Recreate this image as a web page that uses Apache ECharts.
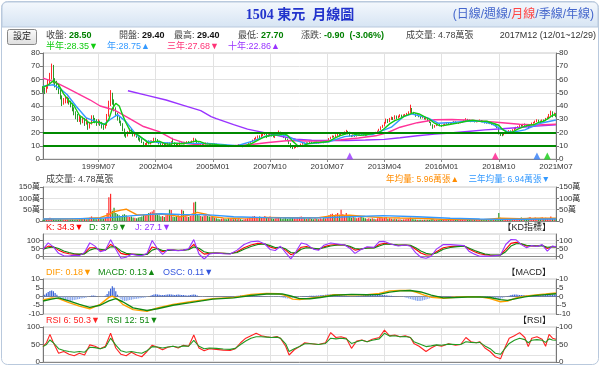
<!DOCTYPE html>
<html><head><meta charset="utf-8">
<script src="https://cdn.jsdelivr.net/npm/echarts@6/dist/echarts.min.js"></script>
<style>html,body{margin:0;padding:0;background:#fff}#c{width:600px;height:366px}</style>
</head><body><div id="c"></div>
<script>
// ---------- data ----------
const startYear = 1996, startMonth = 11, monthCount = 297;
const tickLabels = ['1999M07','2002M04','2005M01','2007M10','2010M07','2013M04','2016M01','2018M10','2021M07'];
const priceLevels = [20, 10];

const priceOpen = [
54,52,
51,54,57,62,66,60,57,55,52,47,42,44,
44,45,43,41,38,35,32,30,31,28,30,27,
29,24,27,31,30,28,27,28,27,25,24,26,
33,42,48,44,38,34,30,28,26,22,19,18,
20,22,20,18,19,17,15,14,13,10,11,13,
12,12.5,13,15,14,13,12,11,11.5,10,11,12,
11,13,12,11,10,11,12,12.5,11.5,12,13,12,
12.5,13,15,14,12,11,11.2,11,11.3,12,11.3,11,
11.2,11,11.3,10.5,10.2,10,10.3,10.8,10.3,10,9.4,9.8,
10.2,10,10.3,10.1,10.8,10,9.3,9.8,10.2,11,12,13,
14,15,16,17,16.6,18,18.4,19.2,17,18,19.3,17.8,
17,18,19,20,19.2,18.3,16.2,15,14,11.8,9,8.2,
9,9.2,9.4,10.2,11.2,12,11.6,12.2,11.8,12.8,12.2,12,
12.8,12.2,12.3,13,13.2,12.4,13,14,15.2,16.3,17,16.8,
18,18.2,17.8,18.8,19.3,20.2,20.8,19,17.8,17,18,17.2,
17.8,18.3,19,18.8,18.1,17.8,18.7,19.1,18.9,19.8,19.2,20,
21,22.2,24,25,27,29.5,28,30,31,30,32,31,
32,33,32.2,33,33.3,34,35,38,35,34,33,33.2,
32,31,31.4,30.2,30.5,29,27.8,25.8,24,25,26.2,26,
25.6,25,25.8,26.3,27,26.2,26.8,27.3,28,27.4,27,27.3,
27.6,28.2,29,30,29.2,29,28.3,28.6,28,28.2,28.3,29.4,
28.5,28.2,27.6,27.2,27.5,26.8,26.2,26.4,25,24.2,19.5,18.5,
18.2,19,20,20.4,21.2,20.8,22,23,23.8,24.2,25,24.8,
26,25.8,25,24,26,27,27.3,28.2,29.2,28.8,27.8,29.2,
29,30.2,31.2,33,35.5,33,34.2];
const priceClose = [
52,51,
54,57,62,64,60,57,55,52,47,42,44,45,
45,43,41,38,35,32,30,31,28,30,27,29,
24,27,31,30,28,27,28,27,25,24,26,33,
42,48,44,38,34,30,28,26,22,19,18,20,
22,20,18,19,17,15,14,13,10,11,13,12,
12.5,13,15,14,13,12,11,11.5,10,11,12,11,
13,12,11,10,11,12,12.5,11.5,12,13,12,12.5,
13,15,14,12,11,11.2,11,11.3,12,11.3,11,11.2,
11,11.3,10.5,10.2,10,10.3,10.8,10.3,10,9.4,9.8,10.2,
10,10.3,10.1,10.8,10,9.3,9.8,10.2,11,12,13,14,
15,16,17,16.6,18,18.4,19.2,17,18,19.3,17.8,17,
18,19,20,19.2,18.3,16.2,15,14,11.8,9,8.2,9,
9.2,9.4,10.2,11.2,12,11.6,12.2,11.8,12.8,12.2,12,12.8,
12.2,12.3,13,13.2,12.4,13,14,15.2,16.3,17,16.8,18,
18.2,17.8,18.8,19.3,20.2,20.8,19,17.8,17,18,17.2,17.8,
18.3,19,18.8,18.1,17.8,18.7,19.1,18.9,19.8,19.2,20,21,
22.2,24,25,27,29.5,28,30,31,30,32,31,32,
33,32.2,33,33.3,34,35,38,35,34,33,33.2,32,
31,31.4,30.2,30.5,29,27.8,25.8,24,25,26.2,26,25.6,
25,25.8,26.3,27,26.2,26.8,27.3,28,27.4,27,27.3,27.6,
28.2,29,30,29.2,29,28.3,28.6,28,28.2,28.3,29.4,28.5,
28.2,27.6,27.2,27.5,26.8,26.2,26.4,25,24.2,19.5,18.5,18.2,
19,20,20.4,21.2,20.8,22,23,23.8,24.2,25,24.8,26,
25.8,25,24,26,27,27.3,28.2,29.2,28.8,27.8,29.2,29,
30.2,31.2,33,35.5,33,34.2,32.2];
const priceLow = [
50,49,
50,53,56,60,57,54,52,49,45,40,41,42,
42,41,39,36,33,30,28,28,26,27,25,26,
22,23,26,28,27,25,26,25,23,22,23,25,
32,40,41,36,32,29,27,25,21,17,16,17,
19,19,17,17,16,14,13,12,9,9.5,10.5,11,
11,12,12.5,13,12,11,10,10.5,9,9.5,10.5,10.5,
10.5,11.5,10.5,9,9.5,10.5,11.5,11,11,11.5,11.5,11.5,
12,12.5,13,11.5,10.5,10.5,10.3,10.5,11,11,10.5,10.6,
10.5,10.7,10.2,9.7,9.6,9.7,10,9.9,9.6,9,9.1,9.5,
9.6,9.8,9.7,9.9,9.5,8.9,9.1,9.6,10,10.8,11.8,12.7,
13.6,14.6,15.3,15.8,16.2,17.2,18,15.8,16.6,17.6,17,16.3,
15.8,17.6,18.3,18.5,17.8,15.8,14.2,13.4,11.2,8.2,7.5,7.8,
8.3,8.8,9.1,10,10.8,11.2,11.3,11.3,11.6,11.8,11.6,11.8,
11.7,11.7,12.1,12.6,11.9,12.1,12.8,13.8,15,16,16.2,16.6,
17.4,17,17.5,18.5,19,19.8,18.6,17,16.5,16.8,16.7,16.9,
17.4,18,18.3,17.6,17.2,17.5,18.4,18.4,18.7,18.8,19,19.8,
20.8,21.9,23.5,24.6,26.7,27.2,27.8,29.5,29.4,29.8,30.2,30.7,
31.5,31.6,31.8,32.4,32.8,33.6,34.8,34.5,33.2,31.8,32.4,31.5,
30.4,30.6,29.8,29.6,28.6,27.2,25.2,22.8,23.6,24.8,25.4,25,
24.2,24.7,25.5,26,25.8,25.9,26.5,27,27,26.6,26.5,27,
27.3,27.9,28.7,28.8,28.4,27.8,27.9,27.6,27.6,27.8,28,27.7,
27.6,26.8,26.7,26.8,26.3,25.6,25.8,24.4,23.2,18.6,17.4,17.2,
17.8,18.8,19.6,20.1,20.2,20.6,21.7,22.4,23.4,23.9,24.3,24.6,
25,24.3,22.6,23.8,25.7,26.6,27,27.9,28,27.2,27.5,28.4,
28.6,29.8,30.8,32.6,31.5,32.6,31.6];
const priceHigh = [
55,54,
56,60,65,72,71,61,59,57,53,48,46,47,
47,46,44,42,39,36,34,33,32,32,31,31,
29,28,33,33,31,30,30,29,28,26,27,34,
44,52,50,45,39,35,32,29,27,23,20,21,
23,23,21,20,20,18,16,15,13,12,14,14,
14,14,16,16,15,13.5,12.5,12,12,11.5,12.5,12.5,
13.5,16,12.5,11.5,11.5,12.5,13,13,13,13.5,13.5,13,
14,16,15.5,14.5,12.5,11.8,11.8,11.8,12.5,12.3,11.8,11.7,
11.6,11.8,11.5,10.8,10.5,10.7,11.2,11,10.5,10.1,10,10.4,
10.6,10.6,10.5,11.2,11,10.1,10.2,10.5,11.3,12.4,13.5,14.6,
15.8,16.8,17.8,17.9,18.8,19.4,20.4,19.5,18.6,20.2,19.6,18.2,
18.5,19.7,21.5,20.6,19.8,18.5,16.5,15.4,14.2,12,9.4,9.4,
9.6,9.8,10.6,11.6,12.5,12.4,12.6,12.5,13.3,13.1,12.6,13.2,
13.1,12.7,13.4,13.8,13.4,13.3,14.4,15.8,16.8,17.8,17.6,18.6,
19,18.8,19.3,20,20.8,22,21.2,19.3,18.2,18.5,18.3,18.2,
18.7,19.5,19.6,19,18.5,19,19.6,19.5,20.3,20,20.5,21.4,
22.8,24.6,25.8,28,30.5,30.2,31,32,31.6,33,32.8,32.8,
33.8,33.5,33.6,34,34.8,36,41,38.5,35.6,34.5,33.8,33.5,
32.4,32,31.6,31.4,30.8,29.3,28,26.2,25.6,26.8,26.8,26.4,
25.9,26.2,26.8,27.5,27.2,27.2,27.8,28.6,28.4,27.8,27.7,28,
28.6,29.5,30.8,30.3,29.8,29.3,29.1,28.9,28.7,28.8,29.8,29.4,
29,28.4,27.9,28,27.7,27,26.9,26.6,25.4,24.4,19.9,19,
19.4,20.4,21,21.8,21.6,22.5,23.6,24.3,24.8,25.6,25.7,26.5,
26.8,26.2,25.4,26.4,27.5,28,29,30,29.7,29,29.8,29.8,
31,32,34,36.5,36,35,34.6];

// moving averages: [monthIndex, value]
const ma6 = [[0,54],[3,56],[6,59],[9,56],[12,49],[15,44],[18,40],[21,33],[24,30],[27,27],[30,28],[33,27.5],[36,26],[38,30],[40,38],[42,42],[44,40],[46,33],[48,27],[50,22],[52,20],[55,18],[58,15],[61,12],[64,13],[67,13.5],[70,11.8],[73,11],[76,12],[80,11.5],[84,12.4],[88,13.5],[91,13],[94,11.4],[98,11.2],[102,10.6],[106,10.2],[110,10],[114,10],[117,10.2],[120,11.5],[123,13.5],[126,15.5],[129,17.2],[133,18.2],[136,18],[139,19],[141,18],[144,13.5],[147,10],[150,10],[153,11.6],[157,12.4],[161,12.6],[165,13.2],[168,15.5],[171,17.5],[174,18.6],[177,20],[180,18.6],[183,17.8],[187,18.5],[191,19.3],[194,20],[197,23],[200,26.5],[203,29],[206,30.5],[209,32.5],[212,34],[214,35],[217,34],[220,32],[223,30],[226,27],[229,25],[232,25.5],[236,26.4],[240,27.3],[244,28.5],[248,29.2],[252,28.4],[256,28.5],[260,26.8],[263,25.5],[265,22.5],[268,19.8],[271,20.5],[274,22.5],[277,24.2],[280,25.5],[283,25.8],[286,27.6],[289,28.6],[292,31],[294,33],[296,33.6]];
const ma12 = [[0,55],[6,56],[10,53],[14,48.5],[19,40],[25,31],[31,28],[35,26],[39,30],[43,33.5],[48,28],[54,18],[60,13.5],[67,12.5],[75,12],[85,11.8],[95,11.8],[103,11],[112,10],[121,13.5],[129,17.4],[136,18.5],[141,17.5],[146,14],[152,11.5],[158,12],[165,13],[174,16.9],[182,18],[190,18.5],[197,22],[201,24],[208,32],[213,34],[222,31],[228,27],[236,27.5],[245,28.5],[252,28.5],[258,27],[264,23],[268,20.6],[272,20.5],[278,22],[287,27],[296,29.4]];
const ma36 = [[0,61],[7,58],[14,53.5],[27,44.7],[33,40],[41,37],[48,32],[58,24.5],[67,20.7],[75,15],[83,11.6],[91,10.6],[100,10.2],[110,10],[119,10.8],[130,12.5],[142,14],[152,13.6],[162,13.5],[172,14.5],[182,15.8],[192,17.5],[199,20],[206,24],[216,27.4],[226,29.6],[236,29.8],[246,29.2],[256,28.4],[265,27.4],[275,26.2],[285,25.7],[296,26.2]];
const ma120 = [[49,51.5],[60,48],[71,44.5],[81,40.5],[91,36.5],[97,32],[100,30.5],[110,26],[118,22.5],[129,19.5],[138,17],[146,15],[155,14.2],[165,14],[175,14],[186,14.3],[197,14.8],[206,16],[216,17.5],[226,18.8],[235,19.6],[245,20.8],[255,22],[265,22.8],[275,23.8],[285,24.8],[296,25.8]];
const signalMonths = ['2011M08','2018M08','2020M08','2021M02'];
const signalColors = ['#9933ff','#ff1a8c','#2f7cf6','#11cc11'];

// volume (萬張)
const volume = [
6,8,
10,12,14,10,8,6,5,6,8,5,6,5,
5,4,5,6,4,5,6,8,9,10,12,8,
10,14,20,12,10,8,10,12,9,10,15,35,
105,120,45,58,35,30,25,22,28,30,25,20,
18,20,15,14,12,15,18,20,28,25,30,35,
38,42,48,35,28,25,20,22,18,25,30,50,
48,20,18,22,25,20,50,45,25,20,18,22,
25,82,85,30,25,22,20,25,30,22,20,18,
20,15,12,10,8,10,12,10,8,12,10,9,
8,10,8,12,8,6,8,10,12,15,18,20,
22,18,15,20,18,15,22,18,15,20,12,10,
12,15,18,14,10,12,15,10,12,18,15,12,
12,15,18,20,15,12,10,12,15,10,8,12,
10,8,12,10,15,12,18,25,30,32,25,30,
35,28,50,30,25,35,22,20,15,18,15,12,
15,18,20,15,12,10,12,10,12,10,8,12,
15,18,12,15,18,10,12,10,8,10,8,7,
8,6,7,8,9,10,15,12,8,7,6,5,
6,5,6,5,6,5,8,10,6,5,4,5,
5,4,5,6,4,5,4,6,5,4,4,5,
5,6,7,5,4,5,4,5,4,4,6,4.78,
5,4,5,4,4,5,4,6,6,35,14,8,
10,8,7,9,8,10,12,10,8,9,15,10,
12,10,14,18,12,10,15,12,10,14,16,12,
14,10,12,20,12,10,8];
const volMa12 = [[0,9],[10,9],[20,9],[33,14.7],[38,28],[41,41],[45,48],[48,52],[51,40],[54,28],[60,26],[65,32],[69,29],[75,25],[79,19],[84,25],[89,38],[94,30],[98,19],[104,14],[110,12],[120,14],[129,16],[138,15],[148,15],[158,14],[167,23.5],[177,26],[186,20],[196,15],[206,13],[216,12],[230,8],[244,7],[254,6],[264,12],[275,10],[285,12],[296,12]];
const volMa36 = [[0,9],[15,9.5],[33,12],[42,17],[52,23.5],[60,28],[68,32],[79,29],[90,28],[98,26],[110,19],[129,14.7],[148,13],[160,14],[177,19],[196,23.5],[216,19],[235,12],[252,9],[264,7.3],[280,8],[296,8.8]];

// KD
const kLine = [[0,45],[3,65],[6,60],[9,40],[12,25],[15,18],[18,15],[21,12],[24,20],[27,55],[30,55],[33,40],[36,40],[39,75],[42,55],[45,20],[48,12],[51,15],[54,12],[57,10],[60,15],[63,60],[66,50],[69,30],[72,40],[75,40],[78,38],[81,40],[84,45],[87,75],[90,40],[93,15],[96,20],[100,22],[104,20],[108,18],[112,30],[116,55],[120,72],[124,82],[128,78],[131,60],[134,50],[137,60],[140,40],[143,12],[146,25],[149,58],[152,62],[156,50],[159,45],[162,60],[166,72],[170,74],[174,72],[177,60],[180,40],[183,45],[187,55],[191,55],[194,75],[197,82],[201,76],[205,70],[209,72],[212,68],[215,45],[218,22],[221,10],[224,10],[227,30],[231,55],[235,62],[239,65],[243,66],[246,45],[249,30],[252,18],[255,12],[258,8],[261,8],[264,10],[267,45],[270,82],[273,88],[276,78],[279,65],[282,68],[285,65],[288,70],[291,50],[294,62],[296,60]];
const dLine = [[0,45],[3,55],[6,60],[9,50],[12,35],[15,25],[18,18],[21,15],[24,17],[27,40],[30,50],[33,45],[36,40],[39,60],[42,60],[45,35],[48,20],[51,15],[54,14],[57,12],[60,13],[63,40],[66,50],[69,38],[72,38],[75,40],[78,39],[81,40],[84,43],[87,60],[90,52],[93,30],[96,22],[100,22],[104,21],[108,19],[112,25],[116,45],[120,62],[124,75],[128,78],[131,68],[134,56],[137,58],[140,48],[143,25],[146,22],[149,45],[152,55],[156,52],[159,48],[162,55],[166,66],[170,72],[174,72],[177,64],[180,50],[183,47],[187,52],[191,54],[194,66],[197,76],[201,76],[205,72],[209,72],[212,70],[215,55],[218,35],[221,20],[224,14],[227,22],[231,45],[235,56],[239,62],[243,65],[246,52],[249,38],[252,26],[255,16],[258,11],[261,9],[264,10],[267,30],[270,65],[273,80],[276,80],[279,70],[282,68],[285,66],[288,68],[291,58],[294,60],[296,60]];
const jLine = [[0,45],[3,85],[6,60],[9,20],[12,5],[15,4],[18,9],[21,6],[24,26],[27,85],[30,65],[33,30],[36,40],[39,105],[42,45],[45,-10],[48,-4],[51,15],[54,8],[57,6],[60,19],[63,100],[66,50],[69,14],[72,44],[75,40],[78,36],[81,40],[84,49],[87,105],[90,16],[93,-15],[96,16],[100,22],[104,18],[108,16],[112,40],[116,75],[120,92],[124,96],[128,78],[131,44],[134,38],[137,64],[140,24],[143,-14],[146,31],[149,84],[152,76],[156,46],[159,39],[162,70],[166,84],[170,78],[174,72],[177,52],[180,20],[183,41],[187,61],[191,57],[194,93],[197,94],[201,76],[205,66],[209,72],[212,64],[215,25],[218,-4],[221,-10],[224,2],[227,46],[231,75],[235,74],[239,71],[243,68],[246,31],[249,14],[252,2],[255,4],[258,2],[261,6],[264,10],[267,75],[270,106],[273,104],[276,74],[279,55],[282,68],[285,63],[288,74],[291,34],[294,66],[296,60]];
const kdTicks = [0,20,50,80,100];

// MACD
const difLine = [[0,-2],[5,-0.8],[9,-1.2],[15,-3.5],[21,-5.5],[27,-7],[33,-4.5],[38,-0.5],[40,0.2],[43,-1.5],[46,-4.5],[52,-7.5],[60,-8.5],[66,-6.5],[75,-4.6],[85,-3],[98,-1.2],[110,-0.5],[120,1.2],[129,1.8],[136,1.6],[140,0.5],[144,-1.5],[148,-1.8],[154,-1],[160,-0.2],[168,1],[178,1],[187,1],[194,1.8],[200,3.2],[206,3.5],[212,3.4],[216,2.2],[220,0.8],[224,-0.4],[231,-1],[238,-0.4],[245,-0.1],[252,-0.2],[258,-1.2],[264,-3],[268,-2.6],[273,-0.8],[278,0.2],[283,0.8],[290,1.4],[296,2]];
const macdLine = [[0,-2.6],[5,-1.5],[9,-0.8],[15,-2.5],[21,-4.5],[27,-6.2],[33,-5],[38,-2.5],[42,-1.2],[46,-3],[52,-6.5],[60,-8],[66,-7],[75,-5],[85,-3.5],[98,-1.5],[110,-0.8],[120,0.6],[129,1.4],[138,1.5],[143,0.3],[148,-1.2],[154,-1.3],[160,-0.6],[168,0.7],[178,1.2],[187,1],[194,1.2],[200,2.5],[206,3.2],[212,3.4],[218,2.6],[224,0.8],[231,-0.8],[238,-0.6],[245,-0.3],[252,-0.2],[258,-0.6],[264,-1.8],[268,-2.2],[273,-1.2],[278,-0.2],[283,0.5],[290,1.1],[296,1.6]];
const oscBars = [
0.5,1,1.8,2.6,3.2,3.4,3,2,1,
-0.3,-0.8,-1.3,-1.8,-2.2,-2.5,-2.6,-2.5,-2.3,-2,-1.8,-1.6,-1.4,-1.2,-1,-0.8,-0.5,
-0.2,0.2,0.5,0.6,0.4,0.2,0,-0.2,-0.3,-0.1,0.5,
1.5,3,4.5,5.8,5,3,
1,-0.5,-1.5,-2.3,-2.6,-2.5,-2.3,-2,-1.8,-1.6,-1.4,-1.3,-1.2,-1,-0.9,-0.7,-0.5,-0.3,
0,0.4,0.8,1.2,1.3,1.1,1,0.9,0.8,0.9,1,1.1,1.2,1.1,1,0.9,1,1.1,1,0.9,0.8,0.7,0.6,
0.6,0.8,1,1.2,1,0.6,0.2,-0.1,-0.3,-0.2,0,0.1,0.2,0.2,0.1,
0.1,0.1,0.1,0.2,0.1,0.1,0.2,0.1,0.1,0.2,0.2,0.3,0.3,0.4,0.5,0.6,0.7,0.8,0.8,0.7,0.6,0.5,0.5,0.4,0.4,0.3,0.3,0.2,0.2,0.1,
0,-0.1,-0.2,-0.3,-0.3,-0.2,-0.2,-0.3,-0.4,-0.6,-0.8,-1,-1.2,-1.1,-0.9,-0.7,-0.5,-0.4,-0.3,-0.2,
-0.1,0.1,0.2,0.3,0.3,0.4,0.4,0.5,0.5,0.6,0.6,0.7,
0.8,0.9,1,1.1,1.1,1.2,1.2,1.1,1,0.9,0.8,0.7,0.6,0.5,0.4,0.3,0.2,0.1,0.1,0.2,0.3,0.4,0.5,0.6,0.7,0.8,0.9,1,1.1,1.2,1.3,1.3,1.2,1.1,1,0.9,0.8,0.7,0.6,0.5,
0.4,0.3,0.2,0.1,0,-0.1,-0.2,-0.3,-0.5,-0.8,-1.1,-1.4,-1.7,-2,-2.3,
-2.5,-2.6,-2.5,-2.3,-2,-1.7,-1.4,-1.1,-0.8,-0.5,-0.3,-0.1,0,0.1,0.1,
0.2,0.2,0.1,0.1,0.1,0,0,0.1,0.1,0,-0.1,-0.1,0,0.1,0.1,0,-0.1,-0.2,-0.3,-0.3,-0.4,-0.4,-0.5,-0.5,-0.6,-0.7,-0.8,-0.9,-1,-1.1,-1.2,-1.3,
-1.5,-1.3,-1,-0.6,-0.2,0.2,0.5,0.8,1,1.1,1.1,1,0.9,
0.8,0.8,0.7,0.7,0.6,0.6,0.5,0.5,0.6,0.6,0.7,0.7,0.8,0.8,0.9,0.9,1,1,1.1,1.1,1];

// RSI
const rsi6 = [[0,44],[2,55],[4,79],[6,55],[9,25],[12,30],[15,22],[18,18],[21,25],[24,20],[27,49],[30,45],[33,38],[36,45],[39,82],[42,40],[45,22],[48,18],[51,28],[54,20],[57,15],[60,30],[63,48],[66,42],[69,35],[72,42],[75,45],[78,40],[81,48],[84,45],[87,77],[90,40],[93,32],[96,38],[100,36],[104,34],[108,33],[111,38],[114,55],[117,68],[120,75],[123,82],[126,75],[129,72],[132,70],[135,73],[137,68],[140,45],[142,20],[145,35],[148,44],[151,55],[155,52],[159,50],[163,55],[166,84],[169,70],[172,72],[175,68],[178,39],[181,60],[184,63],[187,58],[190,65],[194,70],[197,91],[200,75],[203,77],[206,72],[209,75],[212,70],[214,53],[217,45],[221,30],[224,40],[227,48],[230,45],[234,52],[238,48],[241,50],[244,70],[247,58],[250,55],[252,58],[255,40],[258,30],[261,15],[264,9],[266,35],[269,68],[272,75],[275,84],[278,70],[280,44],[282,68],[285,72],[288,65],[290,45],[292,79],[294,68],[296,65]];
const rsi12 = [[0,44],[2,50],[4,63],[6,55],[9,38],[12,33],[15,30],[18,28],[21,30],[24,28],[27,42],[30,41],[33,38],[36,42],[39,68],[42,48],[45,32],[48,28],[51,30],[54,27],[57,25],[60,32],[63,44],[66,43],[69,40],[72,43],[75,45],[78,42],[81,46],[84,45],[87,62],[90,45],[93,38],[96,40],[100,39],[104,37],[108,36],[111,39],[114,50],[117,60],[120,68],[123,72],[126,72],[129,71],[132,70],[135,71],[137,68],[140,52],[142,30],[145,38],[148,44],[151,52],[155,52],[159,50],[163,53],[166,68],[169,66],[172,68],[175,66],[178,53],[181,58],[184,62],[187,58],[190,62],[194,66],[197,82],[200,74],[203,75],[206,72],[209,73],[212,70],[214,58],[217,52],[221,44],[224,46],[227,49],[230,48],[234,51],[238,50],[241,50],[244,58],[247,56],[250,55],[252,56],[255,46],[258,38],[261,25],[264,22],[266,35],[269,53],[272,62],[275,68],[278,64],[280,55],[282,62],[285,64],[288,62],[290,56],[292,66],[294,63],[296,62]];
const rsiTicks = [0,20,50,80,100];

// ---------- build ----------
const months = [];
for (let k = 0; k < monthCount; k++) {
  const t = startYear * 12 + (startMonth - 1) + k;
  months.push(Math.floor(t / 12) + 'M' + String(t % 12 + 1).padStart(2, '0'));
}
const P = a => a.map(p => [months[p[0]], p[1]]);
const isTick = (i, v) => tickLabels.indexOf(v) >= 0;
const FONT = '"Liberation Sans", Arial, "Noto Sans CJK TC", sans-serif';
const UP = '#ff2a2a', DOWN = '#2a9a2a';

const gridDefs = [[53,106],[187,34],[234,25],[279,35],[327,35]];
const grid = gridDefs.map(g => ({left:43, right:44, top:g[0], height:g[1], show:true, borderColor:'#c8c8c8', borderWidth:1, backgroundColor:'#fff'}));

const xAxis = grid.map((g, k) => ({
  type:'category', gridIndex:k, data:months, boundaryGap:false,
  axisLine:{show:true, lineStyle:{color:'#888'}},
  axisTick:{show:k===0, interval:isTick, length:3, lineStyle:{color:'#888'}},
  axisLabel:{show:k===0, interval:isTick, color:'#333', fontSize:8, margin:4, fontFamily:FONT},
  splitLine:{show:true, interval:isTick, lineStyle:{color:'#e2e2e2'}}
}));

function yAxes(k, base) {
  const common = {type:'value', gridIndex:k, min:base.min, max:base.max,
    axisLine:{show:true, lineStyle:{color:'#777'}}};
  if (base.interval) common.interval = base.interval;
  const tick = {show:true, length:3, lineStyle:{color:'#777'}};
  const lab = Object.assign({color:'#333', fontSize:8, margin:3, fontFamily:FONT, showMinLabel:true, showMaxLabel:true, hideOverlap:false}, base.lab || {});
  if (base.custom) { tick.customValues = base.custom; lab.customValues = base.custom; lab.interval = 0; }
  const left = Object.assign({}, common, {position:'left', axisTick:tick, axisLabel:lab,
    splitLine:{show:true, lineStyle:{color:'#e2e2e2'}}});
  const right = Object.assign({}, common, {position:'right', axisTick:tick, axisLabel:lab, splitLine:{show:false}});
  return [left, right];
}
const yAxis = [].concat(
  yAxes(0, {min:0, max:80, interval:10}),
  yAxes(1, {min:0, max:150, interval:50, lab:{formatter:v => v ? v + '萬' : '0'}}),
  yAxes(2, {min:-15, max:140, custom:kdTicks}),
  yAxes(3, {min:-10, max:10, interval:5}),
  yAxes(4, {min:0, max:100, custom:rsiTicks})
);

const candles = months.map((m, i) => [priceOpen[i], priceClose[i], priceLow[i], priceHigh[i]]);
const line = (name, data, color, xi, yi, w) => ({name, type:'line', xAxisIndex:xi, yAxisIndex:yi,
  data:P(data), symbol:'none', smooth:false, lineStyle:{color, width:w || 1.2}, itemStyle:{color}, z:3, silent:true});

const series = [
  {type:'candlestick', xAxisIndex:0, yAxisIndex:0, data:candles, barWidth:1.3, silent:true,
   itemStyle:{color:UP, color0:DOWN, borderColor:UP, borderColor0:DOWN, borderWidth:1},
   markLine:{symbol:'none', silent:true, animation:false, label:{show:false},
     lineStyle:{color:'#008a00', width:2, type:'solid'}, data:priceLevels.map(v => ({yAxis:v}))}},
  line('ma120', ma120, '#9933ff', 0, 0, 1.4),
  line('ma36', ma36, '#ff3399', 0, 0, 1.4),
  line('ma12', ma12, '#3399ff', 0, 0, 1.4),
  line('ma6', ma6, '#11cc11', 0, 0, 1.4),
  {type:'scatter', xAxisIndex:0, yAxisIndex:0, symbol:'triangle', symbolSize:[7,7], silent:true, z:4,
   data:signalMonths.map((m, i) => ({value:[m, 2.3], itemStyle:{color:signalColors[i]}}))},
  {type:'bar', xAxisIndex:1, yAxisIndex:2, barWidth:1.2, silent:true,
   data:volume.map((v, i) => ({value:v, itemStyle:{color: priceClose[i] >= priceOpen[i] ? UP : DOWN}}))},
  line('vma12', volMa12, '#ff8c00', 1, 2, 1.4),
  line('vma36', volMa36, '#3399ff', 1, 2, 1.4),
  line('K', kLine, '#ff0000', 2, 4, 1.1),
  line('D', dLine, '#118811', 2, 4, 1.1),
  line('J', jLine, '#9933ff', 2, 4, 1.1),
  {type:'bar', xAxisIndex:3, yAxisIndex:6, barWidth:1.2, silent:true,
   data:oscBars.map(v => ({value:v, itemStyle:{color: v >= 0 ? '#3b64d8' : '#8aa8ee'}}))},
  line('DIF', difLine, '#ffa200', 3, 6, 1.4),
  line('MACD', macdLine, '#118811', 3, 6, 1.4),
  line('RSI6', rsi6, '#ff2222', 4, 8, 1.1),
  line('RSI12', rsi12, '#229922', 4, 8, 1.1)
];

// ---------- texts ----------
function T(x, y, text, rich, extra) {
  return {type:'text', x, y, silent:true, z:100,
    style:Object.assign({text, rich:rich || {}, fontSize:9, fontFamily:FONT, fill:'#333', verticalAlign:'middle'}, extra || {})};
}
const r = (c, b) => ({fill:c, fontSize:9, fontFamily:FONT, fontWeight: b ? 'bold' : 'normal'});
const RICH = {l:r('#444'), g:r('#008000', true), b:r('#111', true)};

const graphic = [
  {type:'rect', silent:true, z:0, shape:{x:1.5, y:1.5, width:597, height:363, r:6}, style:{fill:'none', stroke:'#b9c9dd', lineWidth:1}},
  {type:'rect', silent:true, z:1, shape:{x:2, y:2, width:596, height:25, r:[5,5,0,0]},
   style:{fill:new echarts.graphic.LinearGradient(0,0,0,1,[{offset:0,color:'#f4f8fd'},{offset:1,color:'#d6e4f3'}]), stroke:'#b9c9dd', lineWidth:1}},
  T(300, 15, '1504 東元  月線圖', null, {fontSize:14, fontWeight:'bold', fill:'#2233cc', align:'center',
    fontFamily:'"Liberation Serif", "Noto Sans CJK TC", serif'}),
  T(594, 15, '({a|日線}/{a|週線}/{m|月線}/{a|季線}/{a|年線})',
    {a:{fill:'#4466cc', fontSize:12, fontFamily:FONT}, m:{fill:'#ff4444', fontSize:12, fontFamily:FONT}},
    {fontSize:12, fill:'#4466cc', align:'right'}),
  {type:'rect', silent:true, z:2, shape:{x:7.5, y:29.5, width:29, height:15, r:2},
   style:{fill:new echarts.graphic.LinearGradient(0,0,0,1,[{offset:0,color:'#fbfbfb'},{offset:1,color:'#dedede'}]), stroke:'#888'}},
  T(22, 37, '設定', null, {align:'center', fill:'#222'}),
  T(46, 36, '{l|收盤:} {g|28.50}', RICH),
  T(119, 36, '{l|開盤:} {b|29.40}', RICH),
  T(174, 36, '{l|最高:} {b|29.40}', RICH),
  T(238, 36, '{l|最低:} {g|27.70}', RICH),
  T(301, 36, '{l|漲跌:} {g|-0.90  (-3.06%)}', RICH),
  T(406, 36, '成交量: 4.78萬張', null, {fill:'#444'}),
  T(596, 36, '2017M12 (12/01~12/29)', null, {fill:'#333', align:'right'}),
  T(46, 47, '半年:28.35▼', null, {fill:'#11cc11'}),
  T(107, 47, '年:28.75▲', null, {fill:'#3399ff'}),
  T(167, 47, '三年:27.68▼', null, {fill:'#ff3377'}),
  T(228, 47, '十年:22.86▲', null, {fill:'#9933ff'}),
  T(46, 180, '成交量: 4.78萬張', null, {fill:'#444'}),
  T(386, 180, '年均量: 5.96萬張▲', null, {fill:'#ff8c00', fontSize:8.6}),
  T(550, 180, '三年均量: 6.94萬張▼', null, {fill:'#3399ff', align:'right', fontSize:8.6}),
  T(46, 228, 'K: 34.3▼', null, {fill:'#ff0000'}),
  T(89, 228, 'D: 37.9▼', null, {fill:'#118811'}),
  T(135, 228, 'J: 27.1▼', null, {fill:'#9933ff'}),
  T(551, 228, '【KD指標】', null, {fill:'#222', align:'right'}),
  T(46, 273, 'DIF: 0.18▼', null, {fill:'#ff9900'}),
  T(98, 273, 'MACD: 0.13▲', null, {fill:'#118811'}),
  T(163, 273, 'OSC: 0.11▼', null, {fill:'#3355dd'}),
  T(551, 273, '【MACD】', null, {fill:'#222', align:'right'}),
  T(46, 321, 'RSI 6: 50.3▼', null, {fill:'#ff2222'}),
  T(107, 321, 'RSI 12: 51▼', null, {fill:'#118811'}),
  T(551, 321, '【RSI】', null, {fill:'#222', align:'right'})
];

const chart = echarts.init(document.getElementById('c'), null, {renderer:'canvas'});
chart.setOption({animation:false, backgroundColor:'#fff', grid, xAxis, yAxis, series, graphic});
</script></body></html>
